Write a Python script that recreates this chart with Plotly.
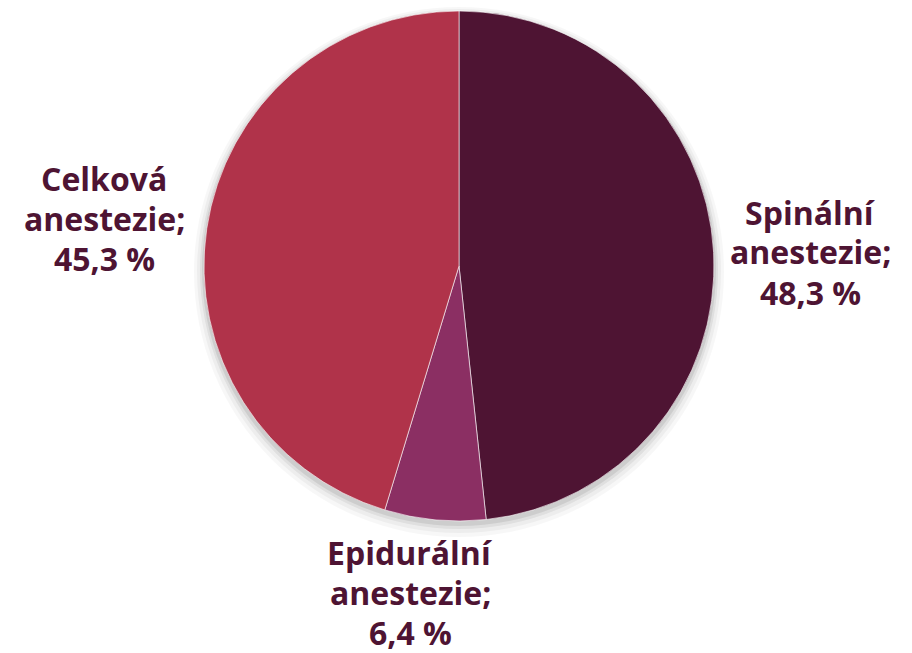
import plotly.graph_objects as go

categories = ["Spinální anestezie", "Epidurální anestezie", "Celková anestezie"]
values = [48.3, 6.4, 45.3]
colors = ["#4E1433", "#8B2F63", "#B0334A"]
label_lines = [["Spinální", "anestezie;"], ["Epidurální", "anestezie;"], ["Celková", "anestezie;"]]

W, H = 912, 653
cx, cy, r = 459, 266, 255

fig = go.Figure(go.Pie(
    labels=categories, values=values, sort=False, direction="clockwise", rotation=0,
    marker=dict(colors=colors, line=dict(color="rgba(255,255,255,0.6)", width=1)),
    textinfo="none", hoverinfo="label+percent", showlegend=False,
    domain=dict(x=[(cx - r) / W, (cx + r) / W], y=[(H - cy - r) / H, (H - cy + r) / H]),
))

# soft shadow behind the pie
for dr, dy, op in [(10, 6, 0.03), (7, 5, 0.04), (4, 4, 0.06), (2, 3, 0.08)]:
    R = r + dr
    fig.add_shape(type="circle", xref="paper", yref="paper", layer="below",
                  x0=(cx - R) / W, x1=(cx + R) / W,
                  y0=1 - (cy + dy + R) / H, y1=1 - (cy + dy - R) / H,
                  fillcolor=f"rgba(0,0,0,{op})", line=dict(width=0))

def fmt(v):
    return f"{v:.1f}".replace(".", ",") + " %"

label_pos = [(810, 212), (410, 552), (104, 178)]  # centre x, first-line centre y
line_gap = 40
for lines, v, (x, y) in zip(label_lines, values, label_pos):
    for i, t in enumerate(lines + [fmt(v)]):
        fig.add_annotation(
            text=t, x=x / W, y=1 - (y + i * line_gap) / H, xref="paper", yref="paper",
            xanchor="center", yanchor="middle", showarrow=False, borderpad=0,
            font=dict(family="Open Sans", size=32, color="#4E1433", weight="bold"),
        )

fig.update_layout(width=W, height=H, margin=dict(l=0, r=0, t=0, b=0),
                  paper_bgcolor="white", plot_bgcolor="white")
fig.write_html("out.html", config={"displayModeBar": False},
               post_script="document.body.style.margin='0';")
